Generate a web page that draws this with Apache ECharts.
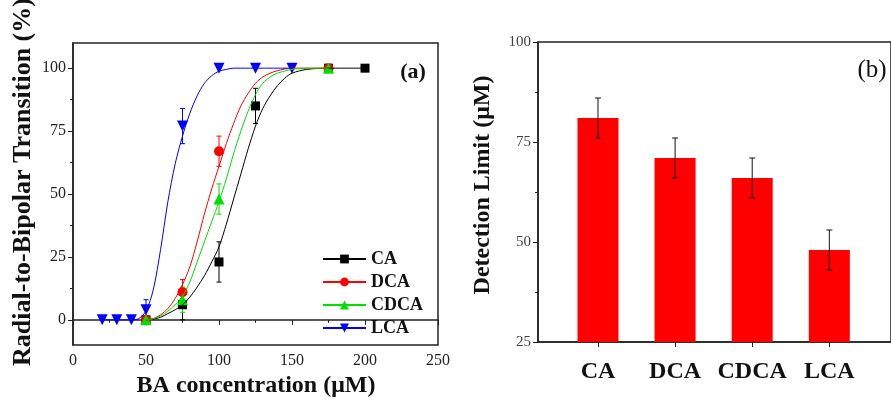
<!DOCTYPE html>
<html><head><meta charset="utf-8">
<script src="https://cdn.jsdelivr.net/npm/echarts@6/dist/echarts.min.js"></script>
<style>html,body{margin:0;padding:0;background:#fff}#c{width:891px;height:402px}</style>
</head><body><div id="c"></div>
<script>
// ---- Panel (a): measured points ----
const concCA = [50, 75, 100, 125, 175, 200];
const valCA = [0, 6, 23, 85, 100, 100];
const errCA = [0, 6, 8, 7, 0, 0];
const concDCA = [50, 75, 100, 175];
const valDCA = [0, 11, 67, 100];
const errDCA = [0, 5, 6, 0];
const concCDCA = [50, 75, 100, 175];
const valCDCA = [0, 8, 48, 100];
const errCDCA = [0, 5, 6, 0];
const concLCA = [20, 30, 40, 50, 75, 100, 125, 150];
const valLCA = [0, 0, 0, 4, 77, 100, 100, 100];
const errLCA = [0, 0, 0, 4, 7, 0, 0, 0];

// ---- Panel (a): fitted curves ----
const fitXCA = [50, 55, 60, 65, 70, 75, 80, 85, 90, 95, 100, 105, 110, 115, 120, 125, 130, 135, 140, 145, 150, 160, 175, 200];
const fitYCA = [0, 0.3, 1, 2.5, 4, 6, 9, 13, 17.5, 23, 29, 38, 48, 58, 68, 77, 84, 89, 93, 96, 98, 99.5, 100, 100];
const fitXDCA = [50, 55, 60, 65, 70, 75, 80, 85, 90, 95, 100, 105, 110, 115, 120, 125, 130, 135, 140, 150, 160, 175];
const fitYDCA = [0, 0.5, 2, 4.5, 8.5, 14, 21, 31, 42, 52, 61, 70, 78, 85, 90, 94, 96.5, 98, 99, 100, 100, 100];
const fitXCDCA = [50, 55, 60, 65, 70, 75, 80, 85, 90, 95, 100, 105, 110, 115, 120, 125, 130, 135, 140, 150, 160, 175];
const fitYCDCA = [0, 0.5, 1.5, 3.5, 6, 9.5, 15, 23, 31, 39, 47, 56, 66, 75, 83, 89.5, 94, 96.5, 98, 99.5, 100, 100];
const fitXLCA = [20, 30, 40, 45, 50, 55, 60, 65, 70, 75, 80, 85, 90, 95, 100, 105, 110, 120, 130, 150];
const fitYLCA = [0, 0, 0, 0.5, 3.5, 12, 28, 47, 62, 73, 82, 89, 94, 97, 98.8, 99.5, 100, 100, 100, 100];

const xTicksA = [0, 50, 100, 150, 200, 250];
const yTicksA = [0, 25, 50, 75, 100];
const yMinorA = [12.5, 37.5, 62.5, 87.5];

// ---- Panel (b) ----
const categories = ['CA', 'DCA', 'CDCA', 'LCA'];
const detectionLimit = [81, 71, 66, 48];
const detectionErr = [5, 5, 5, 5];
const yTicksB = [25, 50, 75, 100];

const FONT = "'Liberation Serif', 'DejaVu Serif', serif";
const AX = '#222';
const downTri = 'path://M0,0 L10,0 L5,9 Z';

function errItem(color, w) {
  return function (params, api) {
    const x = api.value(0), lo = api.value(1), hi = api.value(2);
    const p1 = api.coord([x, hi]), p2 = api.coord([x, lo]);
    const st = { stroke: color, lineWidth: 1 };
    return { type: 'group', children: [
      { type: 'line', shape: { x1: p1[0], y1: p1[1], x2: p2[0], y2: p2[1] }, style: st },
      { type: 'line', shape: { x1: p1[0] - w, y1: p1[1], x2: p1[0] + w, y2: p1[1] }, style: st },
      { type: 'line', shape: { x1: p2[0] - w, y1: p2[1], x2: p2[0] + w, y2: p2[1] }, style: st }
    ]};
  };
}
function zip(xs, ys) { return xs.map((x, i) => [x, ys[i]]); }
function errData(xs, ys, es) {
  return xs.map((x, i) => [x, ys[i] - es[i], ys[i] + es[i]]).filter((d, i) => es[i] > 0);
}

const groups = [
  { name: 'CA', color: '#000000', symbol: 'rect', size: 9, cx: concCA, cy: valCA, ce: errCA, fx: fitXCA, fy: fitYCA },
  { name: 'DCA', color: '#ff0000', symbol: 'circle', size: 10, cx: concDCA, cy: valDCA, ce: errDCA, fx: fitXDCA, fy: fitYDCA },
  { name: 'CDCA', color: '#00e000', symbol: 'triangle', size: 11, cx: concCDCA, cy: valCDCA, ce: errCDCA, fx: fitXCDCA, fy: fitYCDCA },
  { name: 'LCA', color: '#0000ff', symbol: downTri, size: 11, cx: concLCA, cy: valLCA, ce: errLCA, fx: fitXLCA, fy: fitYLCA }
];

const series = [];
groups.forEach(g => {
  series.push({
    name: g.name, type: 'line', xAxisIndex: 0, yAxisIndex: 0,
    data: zip(g.fx, g.fy), smooth: 0.3,
    symbol: g.symbol, symbolSize: g.size, showSymbol: false,
    lineStyle: { color: g.color, width: 1 }, itemStyle: { color: g.color },
    silent: true
  });
  series.push({
    name: g.name + ' err', type: 'custom', xAxisIndex: 0, yAxisIndex: 0,
    data: errData(g.cx, g.cy, g.ce), renderItem: errItem(g.color, 2.5), silent: true
  });
  series.push({
    name: g.name + ' pts', type: 'scatter', xAxisIndex: 0, yAxisIndex: 0,
    data: zip(g.cx, g.cy), symbol: g.symbol, symbolSize: g.size,
    itemStyle: { color: g.color, opacity: 1 }, silent: true
  });
});
series.push({
  name: 'Detection', type: 'bar', xAxisIndex: 1, yAxisIndex: 2,
  data: detectionLimit.map((v, i) => [i + 1, v]), barWidth: 41,
  itemStyle: { color: '#ff0000' }, silent: true
});
series.push({
  name: 'Detection err', type: 'custom', xAxisIndex: 1, yAxisIndex: 2,
  data: detectionLimit.map((v, i) => [i + 1, v - detectionErr[i], v + detectionErr[i]]),
  renderItem: errItem('#111', 3), silent: true, z: 3
});

const chart = echarts.init(document.getElementById('c'), null, { renderer: 'canvas' });
chart.setOption({
  animation: false,
  backgroundColor: '#fff',
  grid: [
    { left: 73, right: 453, top: 43, bottom: 57, show: true, borderColor: AX, borderWidth: 1.5, backgroundColor: 'transparent' },
    { left: 538, width: 365, top: 42, bottom: 60, show: true, borderColor: AX, borderWidth: 1.5, backgroundColor: 'transparent' }
  ],
  xAxis: [
    { type: 'value', gridIndex: 0, min: 0, max: 250, interval: 50,
      axisLine: { lineStyle: { color: AX, width: 1.5 } },
      axisTick: { show: true, length: 5, lineStyle: { color: AX } },
      minorTick: { show: true, splitNumber: 2, length: 3, lineStyle: { color: AX } },
      splitLine: { show: false }, minorSplitLine: { show: false },
      axisLabel: { fontFamily: FONT, fontSize: 16, color: '#222', margin: 8 } },
    { type: 'value', gridIndex: 1, min: 0.222, max: 4.8,
      axisLine: { lineStyle: { color: AX, width: 1.5 } },
      axisTick: { show: true, length: 5, customValues: [1, 2, 3, 4], lineStyle: { color: AX } },
      splitLine: { show: false },
      axisLabel: { customValues: [1, 2, 3, 4], formatter: v => categories[Math.round(v) - 1] || '',
        fontFamily: FONT, fontSize: 24, fontWeight: 'bold', color: '#111', margin: 18 } }
  ],
  yAxis: [
    { type: 'value', gridIndex: 0, min: -10, max: 110, position: 'left',
      axisLine: { show: true, lineStyle: { color: AX, width: 1.5 } },
      axisTick: { show: true, length: 5, customValues: yTicksA, lineStyle: { color: AX } },
      splitLine: { show: false },
      axisLabel: { customValues: yTicksA, fontFamily: FONT, fontSize: 16, color: '#222', margin: 7 } },
    { type: 'value', gridIndex: 0, min: -10, max: 110, position: 'left', offset: 0,
      axisLine: { show: false },
      axisTick: { show: true, length: 3, customValues: yMinorA, lineStyle: { color: AX } },
      splitLine: { show: false },
      axisLabel: { show: false } },
    { type: 'value', gridIndex: 1, min: 25, max: 100, interval: 25, position: 'left',
      axisLine: { show: true, lineStyle: { color: AX, width: 1.5 } },
      axisTick: { show: true, length: 5, lineStyle: { color: AX } },
      minorTick: { show: true, splitNumber: 2, length: 3, lineStyle: { color: AX } },
      splitLine: { show: false }, minorSplitLine: { show: false },
      axisLabel: { fontFamily: FONT, fontSize: 15, color: '#444', margin: 7 } }
  ],
  legend: {
    data: categories, orient: 'vertical', left: 322, top: 250, padding: 0,
    itemWidth: 43, itemHeight: 11, itemGap: 5,
    textStyle: { fontFamily: FONT, fontSize: 18, fontWeight: 'bold', color: '#111' },
    selectedMode: false
  },
  graphic: [
    { type: 'text', x: 23, y: 182, rotation: Math.PI / 2,
      style: { text: 'Radial-to-Bipolar Transition (%)', x: 0, y: 0, align: 'center', verticalAlign: 'middle',
        font: "bold 26px 'Liberation Serif', serif", fill: '#111' } },
    { type: 'text', x: 256, y: 386,
      style: { text: 'BA concentration (μM)', x: 0, y: 0, align: 'center', verticalAlign: 'middle',
        font: "bold 24px 'Liberation Serif', serif", fill: '#111' } },
    { type: 'text', x: 483, y: 185, rotation: Math.PI / 2,
      style: { text: 'Detection Limit (μM)', x: 0, y: 0, align: 'center', verticalAlign: 'middle',
        font: "bold 24px 'Liberation Serif', serif", fill: '#111' } },
    { type: 'text', x: 413, y: 72,
      style: { text: '(a)', x: 0, y: 0, align: 'center', verticalAlign: 'middle',
        font: "bold 22px 'Liberation Serif', serif", fill: '#111' } },
    { type: 'text', x: 872, y: 70,
      style: { text: '(b)', x: 0, y: 0, align: 'center', verticalAlign: 'middle',
        font: "25px 'Liberation Serif', serif", fill: '#111' } }
  ],
  series: series
});
</script>
</body></html>
